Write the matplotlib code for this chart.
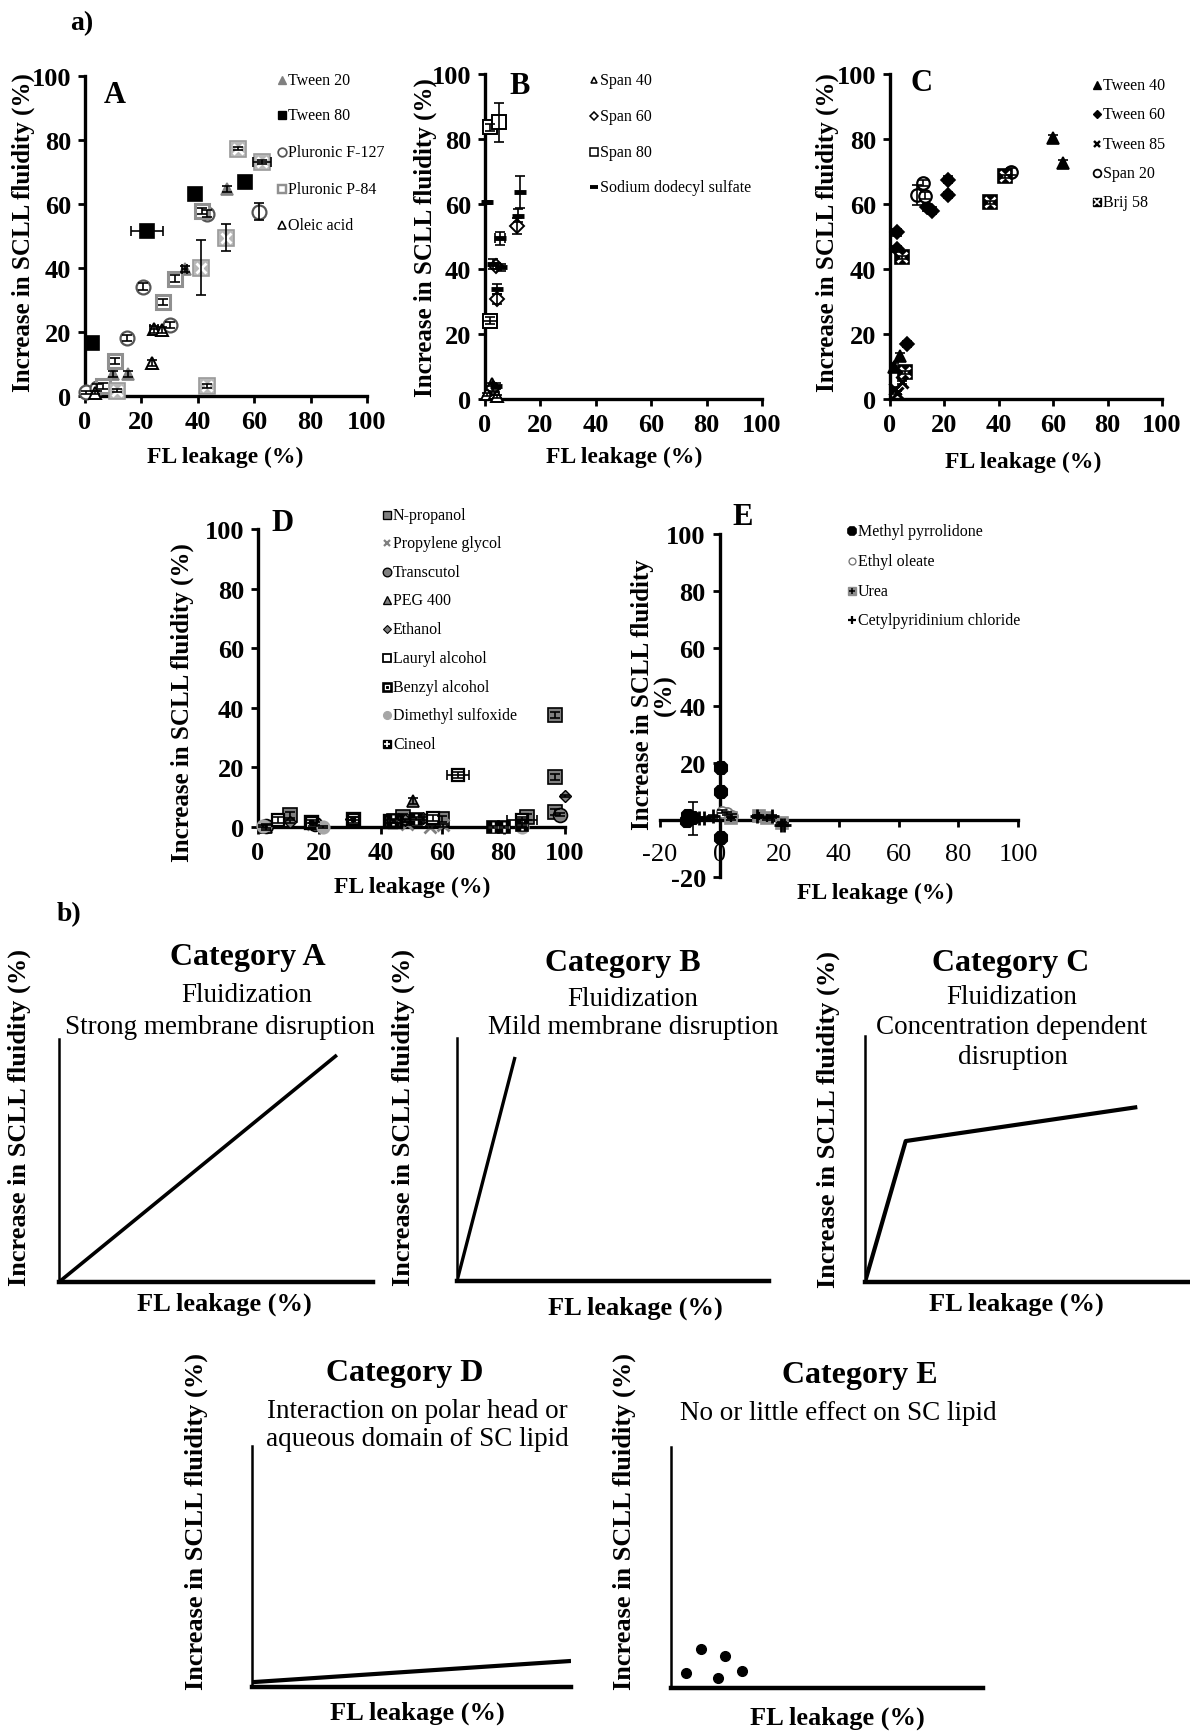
import numpy as np
import matplotlib.pyplot as plt

W, H = 1190, 1733
plt.rcParams['font.family'] = ['Liberation Serif', 'DejaVu Serif']
plt.rcParams['axes.unicode_minus'] = False

# ---------------- data: panel A ----------------
A_names = ["Tween 20", "Tween 80", "Pluronic F-127", "Pluronic P-84", "Oleic acid", None]
A_x = [[10, 15.4, 35.3, 50.3],
       [2.5, 21.9, 39, 56.8],
       [0.5, 4.1, 14.8, 20.7, 30.2, 43.2, 61.8],
       [6.5, 10.6, 27.5, 32, 41.4],
       [3.5, 23.9, 24.5, 27.2],
       [11.2, 41.2, 43.4, 50.1, 54.1, 62.7]]
A_y = [[6.8, 6.8, 39.6, 64.6],
       [16.5, 51.6, 63, 67],
       [1.2, 2.6, 18.2, 34.2, 22.1, 57, 57.6],
       [3.1, 10.9, 29.4, 36.7, 57.8],
       [1, 10.4, 20.8, 20.6],
       [1.6, 40.1, 3.1, 49.5, 77.3, 73.1]]
A_xerr = [[0, 0, 1, 0], [0, 5.6, 0, 0], [0] * 7, [0] * 5, [0, 0, 1.5, 0],
          [0, 0, 0, 0, 0, 3.3]]
A_yerr = [[1, 1, 1, 1], [0.5] * 4, [0.5, 1, 1, 1, 1, 1, 2.7], [1] * 5, [0.5, 1, 1, 1],
          [0.5, 8.6, 0.5, 4.2, 0.5, 0.5]]

# ---------------- data: panel B ----------------
B_names = ["Span 40", "Span 60", "Span 80", "Sodium dodecyl sulfate"]
B_x = [[0.8, 3.6, 2.5, 4.5],
       [2.8, 4.2, 3.9, 11.4],
       [1.8, 5.2, 1.8],
       [0.8, 12.7, 5.4, 12, 5.7, 4.5, 3, 4]]
B_y = [[1.5, 1.8, 4.5, 0.8],
       [3.5, 30.8, 41, 53.3],
       [83.6, 85.1, 24.1],
       [60.5, 63.6, 49.5, 56.4, 40.5, 33.8, 41.5, 4]]
B_xerr = [[0] * 4, [0] * 4, [0, 0, 2.4], [0, 0, 1.8, 0, 0, 0, 0, 0]]
B_yerr = [[0.5] * 4, [1, 1.5, 1, 2.5], [1, 5.9, 1], [0.5, 4.9, 2, 2, 1, 1.5, 1.5, 1]]

# ---------------- data: panel C ----------------
C_names = ["Tween 40", "Tween 60", "Tween 85", "Span 20", "Brij 58"]
C_x = [[1.5, 3.7, 60.1, 63.6],
       [2.5, 2.5, 13.5, 15.3, 21.5, 21.5, 6.1],
       [1.8, 4.3, 2.5],
       [9.8, 12.3, 12.9, 44.4],
       [4.3, 5.5, 36.6, 42.1]]
C_y = [[10, 13.3, 80.3, 72.6],
       [51.3, 46.2, 59, 58, 67.5, 62.8, 16.9],
       [3.1, 5.1, 2],
       [62.8, 66.5, 62.6, 70],
       [43.6, 8.2, 60.5, 68.5]]
C_xerr = [[0] * 4, [0] * 7, [0] * 3, [0] * 4, [0] * 4]
C_yerr = [[1] * 4, [1] * 7, [0.5] * 3, [3, 1, 1, 1], [0.5] * 4]

# ---------------- data: panel D ----------------
D_names = ["N-propanol", "Propylene glycol", "Transcutol", "PEG 400", "Ethanol",
           "Lauryl alcohol", "Benzyl alcohol", "Dimethyl sulfoxide", "Cineol"]
D_x = [[96.7, 96.7, 96.7, 10.3, 47.3, 59.8, 87.5],
       [56, 48.4, 60.3, 18],
       [98.4, 2.7, 18.5],
       [50.5, 2.7, 31],
       [100, 10.3, 47.8, 53.8, 30.4],
       [65.2, 6.5, 57, 85.9],
       [31, 42.9, 17.4, 44.5],
       [1.6, 21.2, 85.9],
       [51.6, 85.9, 76.6, 80, 44]]
D_y = [[37.7, 16.8, 5, 3.9, 3.4, 2.8, 3.4],
       [0, 1.1, 0.6, 1],
       [4.1, 0.3, 1.1],
       [8.6, 0, 2.5],
       [10.4, 1.7, 2.2, 3, 2.8],
       [17.5, 2.2, 3, 2.2],
       [2.8, 1.9, 1.7, 2],
       [0.3, 0, 0],
       [2.8, 0.6, 0, 0, 2.2]]
D_xerr = [[0] * 7, [0] * 4, [0] * 3, [0] * 3, [0] * 5, [3.5, 0, 0, 4.9], [0] * 4, [0] * 3,
          [2.5, 0, 0, 0, 0]]
D_yerr = [[1] * 7, [0.5] * 4, [0.5] * 3, [1] * 3, [0.5] * 5, [1] * 4, [0.5] * 4, [0.3] * 3,
          [0.5] * 5]

# ---------------- data: panel E ----------------
E_names = ["Methyl pyrrolidone", "Ethyl oleate", "Urea", "Cetylpyridinium chloride"]
E_x = [[0.6, 0.6, 0.6, -9.1, -10.5, -11],
       [2.6, 0.9, 4],
       [13.1, 15.9, 20.9, 3.7],
       [12.6, 17.6, 20.4, 21.5, -6.9, -5.2, -2.4]]
E_y = [[18, 9.9, -6.4, 0.6, 1.5, -0.5],
       [2.3, 2.9, 1.5],
       [1.2, 0.6, -1.2, 0.6],
       [1.2, 1.2, -1.7, -1.7, 0.6, 0.6, 1.2]]
E_xerr = [[0] * 6, [0] * 3, [0] * 4, [0] * 7]
E_yerr = [[1, 0.5, 1, 5.8, 0.5, 0.5], [0.5] * 3, [0.5] * 4, [0.5] * 7]

# ---------------- schematic curves (b) ----------------
catA_x, catA_y = [0, 88.5], [0, 93.4]
catB_x, catB_y = [0, 18.6], [0, 92.2]
catC_x, catC_y = [0, 12.6, 84.3], [0, 57.3, 71.1]
catD_x, catD_y = [0, 100], [2, 10.8]
catE_x = [4.8, 9.6, 17.3, 15.1, 22.8]
catE_y = [6.2, 16.2, 13.3, 4.1, 7.1]


def sty(marker, ms, mfc, mec, mew=1.2, over=None):
    return dict(marker=marker, ms=ms, mfc=mfc, mec=mec, mew=mew, over=over)


grey = '#808080'
A_sty = [sty('^', 9, grey, grey),
         sty('s', 10, 'k', 'k'),
         sty('o', 10, 'white', '#555555', 1.6),
         sty('s', 10, 'white', '#909090', 2.2),
         sty('^', 9, 'white', 'k', 1.4),
         sty('s', 11, '#b8b8b8', '#9a9a9a', 1.2, ('x', 7, 'white', 2))]
B_sty = [sty('^', 8, 'white', 'k', 1.4),
         sty('D', 7, 'white', 'k', 1.4),
         sty('s', 10, 'white', 'k', 1.4),
         sty('_', 9, 'k', 'k', 3.5)]
C_sty = [sty('^', 9, 'k', 'k'),
         sty('D', 7, 'k', 'k'),
         sty('x', 8, 'k', 'k', 2.2),
         sty('o', 9, 'white', 'k', 1.6),
         sty('s', 10, 'k', 'k', 1.2, ('x', 7, 'white', 1.8))]
D_sty = [sty('s', 10, grey, 'k', 1.2),
         sty('x', 8, grey, grey, 2),
         sty('o', 10, grey, 'k', 1.2),
         sty('^', 9, grey, 'k', 1.2),
         sty('D', 6, grey, 'k', 1.0),
         sty('s', 9, 'white', 'k', 1.6),
         sty('s', 9, 'white', 'k', 2.4, ('s', 3, 'k', 1)),
         sty('o', 9, '#a6a6a6', '#a6a6a6'),
         sty('s', 9, 'k', 'k', 1.2, ('+', 7, 'white', 1.8))]
E_sty = [sty('8', 10, 'k', 'k', 1.5),
         sty('o', 8, 'white', '#777777', 1.2),
         sty('s', 9, '#8c8c8c', '#8c8c8c', 1.2, ('+', 6, 'k', 1.6)),
         sty('+', 10, 'k', 'k', 2)]

fig = plt.figure(figsize=(W / 100, H / 100), dpi=100)
fig.patch.set_facecolor('white')


def px_axes(left, right, top, bottom):
    return fig.add_axes([left / W, 1 - bottom / H, (right - left) / W, (bottom - top) / H])


def draw_series(ax, xs, ys, xerrs, yerrs, styles):
    for x, y, xe, ye, st in zip(xs, ys, xerrs, yerrs, styles):
        x, y = np.asarray(x, float), np.asarray(y, float)
        xe, ye = np.asarray(xe, float), np.asarray(ye, float)
        ax.plot(x, y, ls='none', marker=st['marker'], ms=st['ms'], mfc=st['mfc'],
                mec=st['mec'], mew=st['mew'], clip_on=False, zorder=3)
        if st['over']:
            m, ms, c, mw = st['over']
            ax.plot(x, y, ls='none', marker=m, ms=ms, mfc=c, mec=c, mew=mw,
                    clip_on=False, zorder=4)
        eb = ax.errorbar(x, y, yerr=ye, fmt='none', ecolor='k', elinewidth=1.2,
                         capsize=3.5, capthick=1.2, zorder=5)
        for art in eb.get_children():
            art.set_clip_on(False)
        mk = xe > 0
        if mk.any():
            eb = ax.errorbar(x[mk], y[mk], xerr=xe[mk], fmt='none', ecolor='k',
                             elinewidth=1.2, capsize=3.5, capthick=1.2, zorder=5)
            for art in eb.get_children():
                art.set_clip_on(False)


def style_axes(ax, lim, ticks):
    ax.set_xlim(*lim)
    ax.set_ylim(*lim)
    ax.set_xticks(ticks)
    ax.set_yticks(ticks)
    ax.set_facecolor('none')
    for s in ['top', 'right']:
        ax.spines[s].set_visible(False)
    for s in ['left', 'bottom']:
        ax.spines[s].set_linewidth(2.4)
    ax.tick_params(direction='out', length=5, width=2, labelsize=19, pad=5)
    for lab in ax.get_xticklabels() + ax.get_yticklabels():
        lab.set_fontweight('bold')


# scatter panels, boxes in pixels
axA = px_axes(85, 367, 77, 397)
axB = px_axes(485, 762, 75, 400)
axC = px_axes(890, 1162, 75, 400)
axD = px_axes(258, 565, 530, 828)
axE = px_axes(660, 1018, 535, 878)

ticks = [0, 20, 40, 60, 80, 100]
for ax in [axA, axB, axC, axD]:
    style_axes(ax, (0, 100), ticks)
style_axes(axE, (-20, 100), [-20, 0, 20, 40, 60, 80, 100])
axE.spines['left'].set_position(('data', 0))
axE.spines['bottom'].set_position(('data', 0))
axE.set_yticklabels(['-20', '', '20', '40', '60', '80', '100'], fontweight='bold')
axE.xaxis.set_tick_params(pad=12)

draw_series(axA, A_x, A_y, A_xerr, A_yerr, A_sty)
draw_series(axB, B_x, B_y, B_xerr, B_yerr, B_sty)
draw_series(axC, C_x, C_y, C_xerr, C_yerr, C_sty)
draw_series(axD, D_x, D_y, D_xerr, D_yerr, D_sty)
draw_series(axE, E_x, E_y, E_xerr, E_yerr, E_sty)

# schematic panels
sA = px_axes(59, 373, 1040, 1283)
sB = px_axes(457, 769, 1039, 1282)
sC = px_axes(865, 1188, 1037, 1283)
sD = px_axes(252, 571, 1447, 1688)
sE = px_axes(671, 983, 1448, 1689)
for ax in [sA, sB, sC, sD, sE]:
    ax.set_xlim(0, 100)
    ax.set_ylim(0, 100)
    ax.set_xticks([])
    ax.set_yticks([])
    ax.set_facecolor('none')
    ax.spines['top'].set_visible(False)
    ax.spines['right'].set_visible(False)
    ax.spines['left'].set_linewidth(1.8)
    ax.spines['bottom'].set_linewidth(3.2)
sA.plot(catA_x, catA_y, color='k', lw=2.6, solid_capstyle='butt')
sB.plot(catB_x, catB_y, color='k', lw=2.4, solid_capstyle='butt')
sC.plot(catC_x, catC_y, color='k', lw=3, solid_capstyle='butt')
sD.plot(catD_x, catD_y, color='k', lw=3, solid_capstyle='butt')
sE.plot(catE_x, catE_y, ls='none', marker='o', ms=7, color='k')

# overlay in pixel coordinates for labels and legends
ov = fig.add_axes([0, 0, 1, 1])
ov.set_xlim(0, W)
ov.set_ylim(H, 0)
ov.axis('off')


def txt(x, y, s, size, bold=True, rot=0, **kw):
    ov.text(x, y, s, fontsize=size, fontweight='bold' if bold else 'normal',
            rotation=rot, ha=kw.pop('ha', 'center'), va=kw.pop('va', 'center'), **kw)


def legend(names, styles, mx, ys, scale=0.62):
    for name, st, y in zip(names, styles, ys):
        if name is None:
            continue
        ov.plot([mx], [y], ls='none', marker=st['marker'], ms=st['ms'] * scale,
                mfc=st['mfc'], mec=st['mec'], mew=st['mew'] * 0.8)
        if st['over']:
            m, ms, c, mw = st['over']
            ov.plot([mx], [y], ls='none', marker=m, ms=ms * scale, mfc=c, mec=c,
                    mew=mw * 0.7)
        txt(mx + 6, y, name, 11.5, bold=False, ha='left')


legend(A_names, A_sty, 282, [81, 116, 153, 190, 226])
legend(B_names, B_sty, 594, [81, 117, 153, 188])
legend(C_names, C_sty, 1097, [86, 115, 145, 174, 203])
legend(D_names, D_sty, 387, [516, 544, 573, 601, 630, 659, 688, 716, 745])
legend(E_names, E_sty, 852, [532, 562, 592, 621])

ylab = "Increase in SCLL fluidity (%)"
xlab = "FL leakage (%)"

txt(70, 24, "a)", 20, ha='left')
txt(57, 915, "b)", 20, ha='left')

# panel letters
txt(115, 95, "A", 22)
txt(520, 86, "B", 22)
txt(922, 83, "C", 22)
txt(283, 523, "D", 22)
txt(743, 517, "E", 22)

# axis titles of the scatter panels
txt(23, 233, ylab, 18, rot=90)
txt(425, 238, ylab, 18, rot=90)
txt(827, 233, ylab, 18, rot=90)
txt(182, 703, ylab, 18, rot=90)
txt(654, 695, "Increase in SCLL fluidity\n(%)", 18, rot=90, linespacing=1.0)
txt(225, 457, xlab, 17)
txt(624, 457, xlab, 17)
txt(1023, 462, xlab, 17)
txt(412, 887, xlab, 17)
txt(875, 893, xlab, 17)

# schematic texts
sub = 19.5
txt(248, 958, "Category A", 23)
txt(247, 995, "Fluidization", sub, bold=False)
txt(220, 1027, "Strong membrane disruption", sub, bold=False)
txt(623, 963, "Category B", 23)
txt(633, 1000, "Fluidization", sub, bold=False)
txt(633, 1028, "Mild membrane disruption", sub, bold=False)
txt(1011, 963, "Category C", 23)
txt(1012, 998, "Fluidization", sub, bold=False)
txt(1012, 1028, "Concentration dependent", sub, bold=False)
txt(1013, 1058, "disruption", sub, bold=False)
txt(405, 1373, "Category D", 23)
txt(417, 1411, "Interaction on polar head or", sub, bold=False)
txt(417, 1440, "aqueous domain of SC lipid", sub, bold=False)
txt(860, 1375, "Category E", 23)
txt(838, 1413, "No or little effect on SC lipid", sub, bold=False)

for x, y in [(19, 1117), (403, 1117), (828, 1119), (196, 1522), (624, 1522)]:
    txt(x, y, ylab, 19, rot=90)
for x, y in [(224, 1304), (635, 1308), (1016, 1304), (417, 1713), (837, 1718)]:
    txt(x, y, xlab, 19)

fig.savefig("out.png", dpi=100, facecolor='white')
